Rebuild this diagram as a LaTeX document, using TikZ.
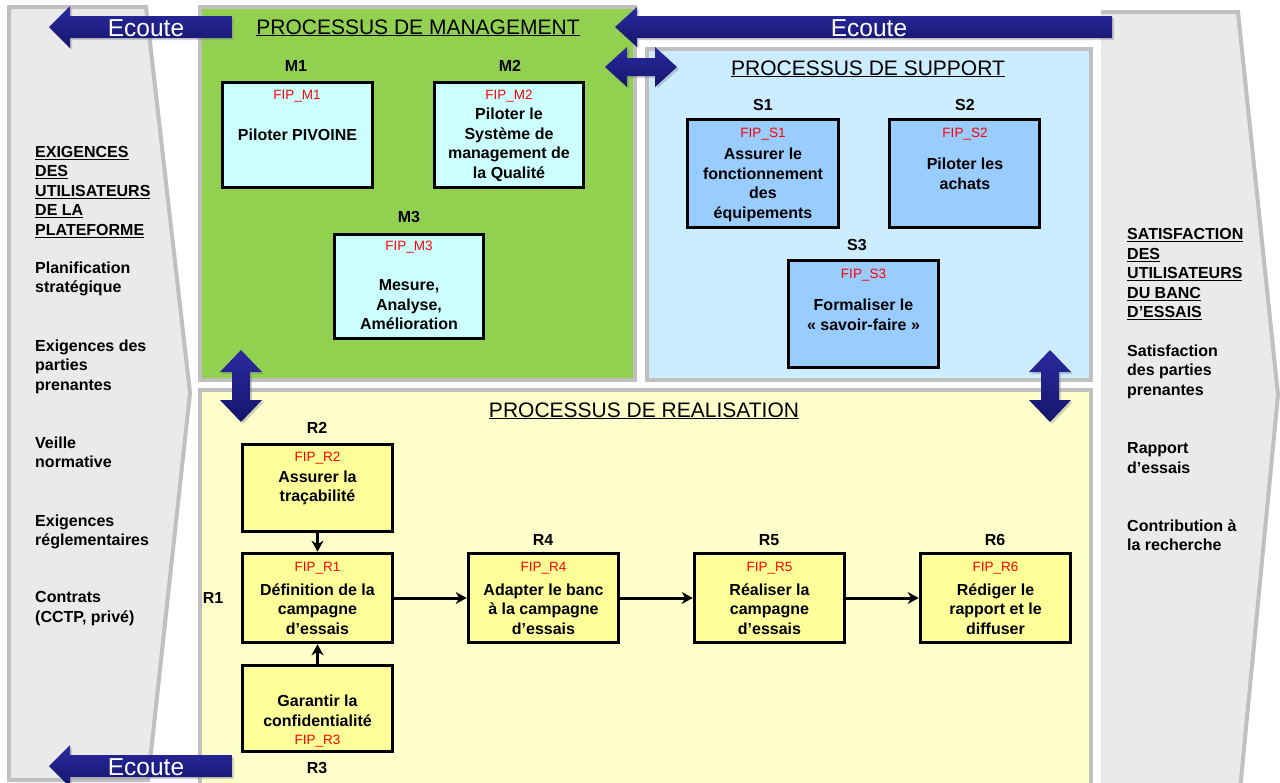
\documentclass[tikz,border=0pt]{standalone}
\usepackage{fontspec}
\setmainfont{Liberation Sans}
\usetikzlibrary{arrows.meta,shadows}
\definecolor{panelgray}{HTML}{EAEAEA}
\definecolor{bordergray}{HTML}{C0C0C0}
\definecolor{mgreen}{HTML}{92D050}
\definecolor{sblue}{HTML}{CCECFF}
\definecolor{ryellow}{HTML}{FFFFCC}
\definecolor{mbox}{HTML}{CCFFFF}
\definecolor{sbox}{HTML}{99CCFF}
\definecolor{rbox}{HTML}{FFFF99}
\definecolor{navyL}{HTML}{2A2AA0}
\definecolor{navyD}{HTML}{15156C}
\definecolor{fipred}{HTML}{FF0000}
\begin{document}
\begin{tikzpicture}[x=1pt,y=-1pt,
  panel/.style={draw=bordergray,line width=4pt,line join=miter},
  bigarrow/.style={top color=navyL,bottom color=navyD,draw=none,
    drop shadow={opacity=0.35,shadow xshift=2pt,shadow yshift=-2pt}},
  ecoute/.style={text=white,anchor=base,inner sep=0,font=\fontsize{24.5}{28}\selectfont},
  title/.style={anchor=base,inner sep=0,font=\fontsize{21}{25}\selectfont},
  procbox/.style={draw=black,line width=3.6pt,inner sep=0},
  lbl/.style={inner sep=0,font=\fontsize{16}{19.5}\selectfont\bfseries},
  fip/.style={anchor=base,inner sep=0,text=fipred,font=\fontsize{13.5}{16}\selectfont},
  body/.style={inner sep=0,align=center,font=\fontsize{16}{19.5}\selectfont\bfseries},
  sidetxt/.style={anchor=north west,inner sep=0,align=left,font=\fontsize{16}{19.5}\selectfont\bfseries},
  conn/.style={line width=3pt,-{Stealth[length=11pt,width=12pt,inset=3.5pt]}}]
\useasboundingbox (0,0) rectangle (1280,782);
\clip (0,0) rectangle (1280,782);
\fill[white] (0,0) rectangle (1280,782);

% side panels
\draw[panel,fill=panelgray] (9,7) -- (146,7) -- (190,393) -- (148,780) -- (9,780) -- cycle;
\draw[panel,fill=panelgray] (1101,12) -- (1238,12) -- (1278,395) -- (1240,790) -- (1101,790);

% process areas
\draw[panel,fill=mgreen] (200,7) rectangle (635,380);
\draw[panel,fill=sblue] (647,49) rectangle (1091,380);
\draw[panel,fill=ryellow] (200,390) rectangle (1091,792);

% titles
\node[title] (tM) at (418,34) {\underline{PROCESSUS DE MANAGEMENT}};
\node[title] (tS) at (868,75) {\underline{PROCESSUS DE SUPPORT}};
\node[title] (tR) at (644,417) {\underline{PROCESSUS DE REALISATION}};

% management boxes
\node[procbox,fill=mbox,minimum width=150pt,minimum height=105pt] (M1) at (297.5,135) {};
\node[procbox,fill=mbox,minimum width=149pt,minimum height=105pt] (M2) at (509,135) {};
\node[procbox,fill=mbox,minimum width=149pt,minimum height=104pt] (M3) at (409,286.5) {};
\node[lbl] (lM1) at (296,66) {M1};
\node[lbl] (lM2) at (510,66) {M2};
\node[lbl] (lM3) at (409,217) {M3};
\node[fip] (fM1) at (297,99) {FIP\_M1};
\node[fip] (fM2) at (509,99) {FIP\_M2};
\node[fip] (fM3) at (409,250) {FIP\_M3};
\node[body] (bM1) at (297.5,135) {Piloter PIVOINE};
\node[body] (bM2) at (509,145) {Piloter le\\Système de\\management de\\la Qualité};
\node[body] (bM3) at (409,305) {Mesure,\\Analyse,\\Amélioration};

% support boxes
\node[procbox,fill=sbox,minimum width=151pt,minimum height=108pt] (S1) at (763,173.5) {};
\node[procbox,fill=sbox,minimum width=150pt,minimum height=108pt] (S2) at (964.5,173.5) {};
\node[procbox,fill=sbox,minimum width=150pt,minimum height=107pt] (S3) at (863.5,314) {};
\node[lbl] (lS1) at (763,105) {S1};
\node[lbl] (lS2) at (965,105) {S2};
\node[lbl] (lS3) at (857,245) {S3};
\node[fip] (fS1) at (763,137) {FIP\_S1};
\node[fip] (fS2) at (965,137) {FIP\_S2};
\node[fip] (fS3) at (863.5,278) {FIP\_S3};
\node[body] (bS1) at (763,185) {Assurer le\\fonctionnement\\des\\équipements};
\node[body] (bS2) at (965,174) {Piloter les\\achats};
\node[body] (bS3) at (863.5,315) {Formaliser le\\« savoir-faire »};

% realisation boxes
\node[procbox,fill=rbox,minimum width=150pt,minimum height=87pt] (R2) at (317.5,488) {};
\node[procbox,fill=rbox,minimum width=150pt,minimum height=89pt] (R1) at (317.5,598) {};
\node[procbox,fill=rbox,minimum width=150pt,minimum height=86pt] (R3) at (317.5,708.5) {};
\node[procbox,fill=rbox,minimum width=150pt,minimum height=89pt] (R4) at (543.5,598) {};
\node[procbox,fill=rbox,minimum width=150pt,minimum height=89pt] (R5) at (769.5,598) {};
\node[procbox,fill=rbox,minimum width=150pt,minimum height=89pt] (R6) at (995.5,598) {};
\node[lbl] (lR2) at (317,428) {R2};
\node[lbl] (lR1) at (213,598) {R1};
\node[lbl] (lR3) at (317,768) {R3};
\node[lbl] (lR4) at (543,540) {R4};
\node[lbl] (lR5) at (769,540) {R5};
\node[lbl] (lR6) at (995,540) {R6};
\node[fip] (fR2) at (317.5,461) {FIP\_R2};
\node[fip] (fR1) at (317.5,571) {FIP\_R1};
\node[fip] (fR4) at (543.5,571) {FIP\_R4};
\node[fip] (fR5) at (769.5,571) {FIP\_R5};
\node[fip] (fR6) at (995.5,571) {FIP\_R6};
\node[fip] (fR3) at (317.5,744) {FIP\_R3};
\node[body] (bR2) at (317.5,488) {Assurer la\\traçabilité};
\node[body] (bR1) at (317.5,609) {Définition de la\\campagne\\d’essais};
\node[body] (bR4) at (543.5,609) {Adapter le banc\\à la campagne\\d’essais};
\node[body] (bR5) at (769.5,609) {Réaliser la\\campagne\\d’essais};
\node[body] (bR6) at (995.5,609) {Rédiger le\\rapport et le\\diffuser};
\node[body] (bR3) at (317.5,711) {Garantir la\\confidentialité};

% connectors
\draw[conn] (R2) -- (R1);
\draw[conn] (R3) -- (R1);
\draw[conn] (R1) -- (R4);
\draw[conn] (R4) -- (R5);
\draw[conn] (R5) -- (R6);

% side texts
\node[sidetxt] (hL) at (35,146) {\underline{EXIGENCES}\\\underline{DES}\\\underline{UTILISATEURS}\\\underline{DE LA}\\\underline{PLATEFORME}};
\node[sidetxt] (l1) at (35,261.5) {Planification\\stratégique};
\node[sidetxt] (l2) at (35,339.5) {Exigences des\\parties\\prenantes};
\node[sidetxt] (l3) at (35,436.5) {Veille\\normative};
\node[sidetxt] (l4) at (35,514.5) {Exigences\\réglementaires};
\node[sidetxt] (l5) at (35,591.5) {Contrats\\(CCTP, privé)};
\node[sidetxt] (hR) at (1127,228.5) {\underline{SATISFACTION}\\\underline{DES}\\\underline{UTILISATEURS}\\\underline{DU BANC}\\\underline{D’ESSAIS}};
\node[sidetxt] (r1) at (1127,344.5) {Satisfaction\\des parties\\prenantes};
\node[sidetxt] (r2) at (1127,442.5) {Rapport\\d’essais};
\node[sidetxt] (r3) at (1127,519.5) {Contribution à\\la recherche};

% big navy arrows
\path[bigarrow] (49,27) -- (70,6) -- (70,16) -- (232,16) -- (232,38) -- (70,38) -- (70,48) -- cycle;
\node[ecoute] (e1) at (146,36) {Ecoute};
\path[bigarrow] (615,27) -- (637,7) -- (637,16) -- (1112,16) -- (1112,38) -- (637,38) -- (637,47) -- cycle;
\node[ecoute] (e2) at (869,36) {Ecoute};
\path[bigarrow] (49,766) -- (70,745) -- (70,755) -- (232,755) -- (232,777) -- (70,777) -- (70,787) -- cycle;
\node[ecoute] (e3) at (146,775) {Ecoute};

\path[bigarrow] (605,67) -- (627,47) -- (627,58) -- (655,58) -- (655,47) -- (677,67) -- (655,87) -- (655,76) -- (627,76) -- (627,87) -- cycle;
\path[bigarrow] (241,350) -- (262,372) -- (250,372) -- (250,400) -- (262,400) -- (241,422) -- (220,400) -- (232,400) -- (232,372) -- (220,372) -- cycle;
\path[bigarrow] (1050,350) -- (1071,372) -- (1059,372) -- (1059,400) -- (1071,400) -- (1050,422) -- (1029,400) -- (1041,400) -- (1041,372) -- (1029,372) -- cycle;
\end{tikzpicture}
\end{document}
